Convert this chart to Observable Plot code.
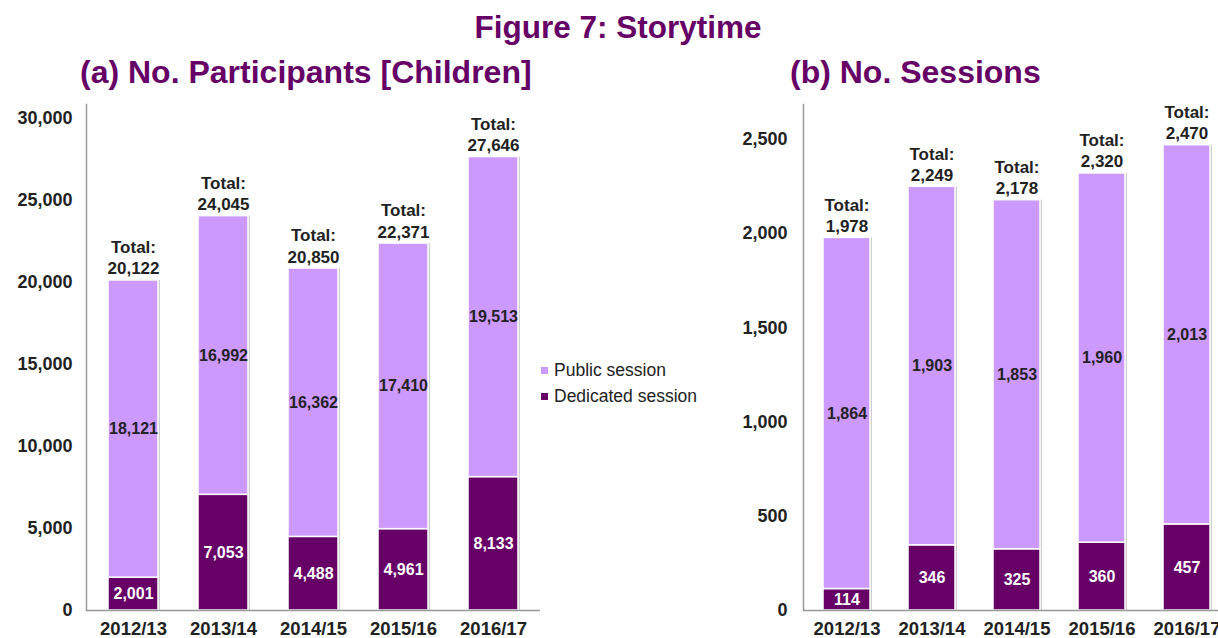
<!DOCTYPE html>
<html>
<head>
<meta charset="utf-8">
<script src="https://cdn.jsdelivr.net/npm/d3@7"></script>
<script src="https://cdn.jsdelivr.net/npm/@observablehq/plot@0.6"></script>
<style>
  html, body { margin: 0; padding: 0; background: #fff; }
  #page { position: relative; width: 1218px; height: 638px; overflow: hidden; font-family: "Liberation Sans", Arial, sans-serif; }
  .title { position: absolute; color: #660066; font-weight: bold; white-space: nowrap; line-height: 1; }
  #main { left: 0; width: 1236px; text-align: center; top: 12px; font-size: 31.5px; }
  #subA { left: 80px; top: 56px; font-size: 32px; }
  #subB { left: 790px; top: 56px; font-size: 32px; }
  .plot { position: absolute; top: 0; }
  .plot svg { max-width: none !important; }
  #left { left: 0; width: 560px; }
  #right { left: 720px; width: 530px; }
  #legend { position: absolute; left: 541px; top: 357px; font-size: 17.5px; color: #222; }
  #legend div { height: 26px; display: flex; align-items: center; }
  #legend span.sw { display: inline-block; width: 7px; height: 7px; margin-right: 6px; }
</style>
</head>
<body>
<div id="page">
  <div class="title" id="main">Figure 7: Storytime</div>
  <div class="title" id="subA">(a) No. Participants [Children]</div>
  <div class="title" id="subB">(b) No. Sessions</div>
  <div class="plot" id="left"></div>
  <div class="plot" id="right"></div>
  <div id="legend"></div>
</div>
<script>
const years = ["2012/13", "2013/14", "2014/15", "2015/16", "2016/17"];
const seriesNames = ["Dedicated session", "Public session"];
const seriesColors = ["#660066", "#cc99ff"];
const labelColors = ["#ffffff", "#222222"];

const participantsDedicated = [2001, 7053, 4488, 4961, 8133];
const participantsPublic = [18121, 16992, 16362, 17410, 19513];
const participantsTotal = [20122, 24045, 20850, 22371, 27646];

const sessionsDedicated = [114, 346, 325, 360, 457];
const sessionsPublic = [1864, 1903, 1853, 1960, 2013];
const sessionsTotal = [1978, 2249, 2178, 2320, 2470];

const participantsTicks = [0, 5000, 10000, 15000, 20000, 25000, 30000];
const sessionsTicks = [0, 500, 1000, 1500, 2000, 2500];

const fmt = d3.format(",");

function rows(ded, pub) {
  const out = [];
  years.forEach((y, i) => {
    out.push({year: y, type: seriesNames[0], value: ded[i]});
    out.push({year: y, type: seriesNames[1], value: pub[i]});
  });
  return out;
}

function chart({ded, pub, tot, ticks, yMax, width, marginLeft, tickPad}) {
  const data = rows(ded, pub);
  const totals = years.map((y, i) => ({year: y, total: tot[i]}));
  return Plot.plot({
    width, height: 638,
    marginTop: 104, marginBottom: 28, marginLeft, marginRight: 20,
    style: {fontFamily: "'Liberation Sans', Arial, sans-serif", fontWeight: "bold", fontSize: "16px", color: "#222", background: "transparent", maxWidth: "none"},
    x: {domain: years, paddingInner: 0.45, paddingOuter: 0.225, label: null},
    y: {domain: [0, yMax], label: null},
    color: {domain: seriesNames, range: seriesColors},
    marks: [
      Plot.barY(data, Plot.stackY({x: "year", y: "value", fill: "#cfcfcf", z: "type", dx: 2})),
      Plot.barY(data, Plot.stackY({x: "year", y: "value", fill: "type", stroke: "#fff", strokeWidth: 1.5, z: "type"})),
      Plot.text(data, Plot.stackY({x: "year", y: "value", z: "type", text: d => fmt(d.value),
        fill: d => labelColors[seriesNames.indexOf(d.type)], fontSize: 16, fontWeight: "bold"})),
      Plot.text(totals, {x: "year", y: "total", text: d => "Total:\n" + fmt(d.total), lineAnchor: "bottom",
        dy: -6, lineHeight: 1.25, fontSize: 17, fontWeight: "bold", fill: "#222"}),
      Plot.axisY({ticks, tickFormat: fmt, tickSize: 0, tickPadding: tickPad, fontSize: 18, fontWeight: "bold"}),
      Plot.axisX({tickSize: 0, tickPadding: 11, fontSize: 18.5, fontWeight: "bold"}),
      Plot.frame({anchor: "left", stroke: "#999", strokeWidth: 1.5}),
      Plot.ruleY([0], {stroke: "#999", strokeWidth: 1.5})
    ]
  });
}

document.getElementById("left").append(chart({
  ded: participantsDedicated, pub: participantsPublic, tot: participantsTotal,
  ticks: participantsTicks, yMax: 30850, width: 560, marginLeft: 86, tickPad: 14
}));
document.getElementById("right").append(chart({
  ded: sessionsDedicated, pub: sessionsPublic, tot: sessionsTotal,
  ticks: sessionsTicks, yMax: 2686, width: 530, marginLeft: 83, tickPad: 16
}));

const legend = document.getElementById("legend");
[1, 0].forEach(i => {
  const row = document.createElement("div");
  row.innerHTML = `<span class="sw" style="background:${seriesColors[i]}"></span>${seriesNames[i]}`;
  legend.append(row);
});
</script>
</body>
</html>
